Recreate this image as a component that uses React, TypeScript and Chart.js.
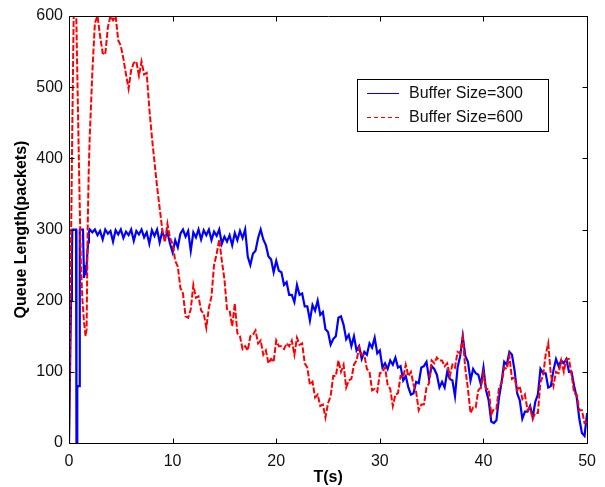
import { useEffect, useRef } from "react";
import { Chart, registerables } from "chart.js";

Chart.register(...registerables);

// ---- Data ----
const SERIES_LABELS = ["Buffer Size=300", "Buffer Size=600"];
const X_TICKS = [0, 10, 20, 30, 40, 50];
const Y_TICKS = [0, 100, 200, 300, 400, 500, 600];
const X_TITLE = "T(s)";
const Y_TITLE = "Queue Length(packets)";

// Buffer 300: start-up transient (irregular times)
const blueEarlyT = [0, 0.1, 0.2, 0.28, 0.32, 0.68, 0.72, 0.78, 0.8, 1.0, 1.04, 1.35, 1.45, 1.55, 1.65, 1.75, 1.85, 1.92];
const blueEarlyV = [0, 100, 200, 260, 300, 300, 0, 0, 80, 80, 300, 300, 232, 250, 236, 262, 282, 296];

// Buffer 300: samples every 0.25 s from t = 2.0 to 50.0
const blueSteadyV = [
  300, 296, 300, 292, 298, 286, 300, 294,
  298, 283, 299, 293, 300, 288, 297, 292,
  300, 284, 298, 293, 300, 289, 296, 280,
  299, 291, 300, 282, 297, 288, 296, 280,
  268, 285, 275, 294, 300, 290, 298, 270,
  296, 289, 300, 286, 299, 292, 300, 285,
  297, 291, 300, 280, 290, 283, 292, 278,
  295, 285, 298, 288, 300, 262, 250, 266,
  270, 288, 300, 286, 278, 262, 258, 240,
  256, 242, 240, 222, 226, 208, 208, 198,
  222, 208, 210, 192, 192, 172, 194, 186,
  200, 180, 184, 160, 156, 138, 146, 150,
  176, 178, 166, 146, 152, 136, 150, 130,
  136, 118, 128, 124, 140, 134, 148, 126,
  130, 106, 112, 104, 116, 110, 120, 106,
  108, 88, 94, 78, 68, 70, 86, 84,
  106, 108, 114, 90, 108, 104, 96, 78,
  86, 78, 100, 90, 88, 66, 106, 122,
  150, 122, 114, 88, 104, 98, 96, 82,
  106, 74, 60, 30, 28, 32, 64, 86,
  114, 110, 128, 124, 102, 70, 60, 34,
  44, 44, 52, 36, 58, 68, 104, 98,
  98, 78, 80, 102, 118, 108, 116, 112,
  118, 100, 100, 80, 64, 34, 14, 10,
  42,
];

// Buffer 600: start-up transient (irregular times)
const redEarlyT = [0, 0.15, 0.3, 0.45, 0.7, 0.85, 1.0, 1.15, 1.3, 1.45, 1.6, 1.7, 1.8, 1.9];
const redEarlyV = [0, 220, 420, 600, 600, 480, 360, 250, 200, 170, 150, 160, 300, 380];

// Buffer 600: samples every 0.25 s from t = 2.0 to 50.0
const redSteadyV = [
  430, 520, 590, 600, 572, 548, 546, 584,
  600, 594, 600, 566, 558, 540, 518, 498,
  524, 534, 536, 516, 536, 518, 520, 470,
  430, 395, 360, 330, 300, 282, 308, 288,
  280, 256, 248, 218, 210, 178, 176, 188,
  222, 204, 206, 186, 182, 162, 190, 206,
  250, 266, 286, 256, 230, 188, 186, 164,
  196, 154, 150, 132, 136, 130, 150, 152,
  158, 140, 144, 124, 130, 112, 118, 114,
  144, 136, 136, 132, 140, 136, 144, 124,
  148, 138, 140, 112, 106, 82, 86, 64,
  68, 52, 54, 36, 56, 66, 94, 94,
  116, 100, 110, 78, 88, 90, 110, 116,
  134, 124, 124, 104, 100, 74, 76, 72,
  98, 100, 106, 82, 76, 52, 68, 70,
  94, 92, 110, 94, 100, 82, 72, 46,
  54, 54, 78, 84, 116, 112, 120, 116,
  116, 108, 112, 94, 110, 106, 128, 126,
  148, 104, 76, 42, 50, 50, 74, 78,
  98, 76, 76, 40, 48, 48, 78, 84,
  106, 104, 122, 90, 92, 74, 80, 62,
  68, 46, 50, 34, 42, 42, 86, 94,
  124, 140, 96, 80, 100, 98, 116, 100,
  118, 118, 96, 70, 68, 46, 46, 28,
  30,
];

const STEADY_START = 2;
const STEADY_STEP = 0.25;

function buildPoints(earlyT: number[], earlyV: number[], steady: number[]) {
  const pts = earlyT.map((t, i) => ({ x: t, y: earlyV[i] }));
  steady.forEach((v, i) => pts.push({ x: STEADY_START + i * STEADY_STEP, y: v }));
  return pts;
}

const FONT = "'Liberation Sans', Arial, Helvetica, sans-serif";
const BLUE = "#0000ff";
const RED = "#ff0000";

const framePlugin = {
  id: "matlabFrame",
  afterDatasetsDraw(chart: any) {
    const { ctx, chartArea: a, scales } = chart;
    ctx.save();
    ctx.strokeStyle = "#000";
    ctx.lineWidth = 1;
    const L = Math.round(a.left) + 0.5;
    const R = Math.round(a.right) + 0.5;
    const T = Math.round(a.top) + 0.5;
    const B = Math.round(a.bottom) + 0.5;
    ctx.beginPath();
    ctx.rect(L, T, R - L, B - T);
    const tl = 5;
    X_TICKS.forEach((v) => {
      const px = Math.round(scales.x.getPixelForValue(v)) + 0.5;
      ctx.moveTo(px, B);
      ctx.lineTo(px, B - tl);
      ctx.moveTo(px, T);
      ctx.lineTo(px, T + tl);
    });
    Y_TICKS.forEach((v) => {
      const py = Math.round(scales.y.getPixelForValue(v)) + 0.5;
      ctx.moveTo(L, py);
      ctx.lineTo(L + tl, py);
      ctx.moveTo(R, py);
      ctx.lineTo(R - tl, py);
    });
    ctx.stroke();
    ctx.restore();
  },
  afterDraw(chart: any) {
    const { ctx } = chart;
    ctx.save();
    const bx = 357.5, by = 79.5, bw = 191, bh = 52;
    ctx.fillStyle = "#fff";
    ctx.fillRect(bx, by, bw, bh);
    ctx.strokeStyle = "#000";
    ctx.lineWidth = 1;
    ctx.strokeRect(bx, by, bw, bh);
    const rows = [
      { y: 93.5, color: BLUE, dash: [] as number[], label: chart.data.datasets[0].label },
      { y: 117.5, color: RED, dash: [4, 3], label: chart.data.datasets[1].label },
    ];
    rows.forEach((r) => {
      ctx.beginPath();
      ctx.strokeStyle = r.color;
      ctx.lineWidth = 1;
      ctx.setLineDash(r.dash);
      ctx.moveTo(367, r.y);
      ctx.lineTo(399, r.y);
      ctx.stroke();
      ctx.setLineDash([]);
      ctx.fillStyle = "#111";
      ctx.font = `16px ${FONT}`;
      ctx.textBaseline = "middle";
      ctx.textAlign = "left";
      ctx.fillText(r.label, 409, r.y);
    });
    ctx.restore();
  },
};

export default function App() {
  const ref = useRef<HTMLCanvasElement | null>(null);

  useEffect(() => {
    if (!ref.current) return;
    const chart = new Chart(ref.current, {
      type: "line",
      data: {
        datasets: [
          {
            label: SERIES_LABELS[0],
            data: buildPoints(blueEarlyT, blueEarlyV, blueSteadyV),
            borderColor: BLUE,
            backgroundColor: BLUE,
            borderWidth: 2.2,
            pointRadius: 0,
            tension: 0,
            order: 1,
          },
          {
            label: SERIES_LABELS[1],
            data: buildPoints(redEarlyT, redEarlyV, redSteadyV),
            borderColor: RED,
            backgroundColor: RED,
            borderWidth: 2,
            borderDash: [6, 2],
            pointRadius: 0,
            tension: 0,
            order: 0,
          },
        ],
      },
      options: {
        responsive: false,
        animation: false,
        events: [],
        layout: { padding: { left: 0, right: 8, top: 16, bottom: 0 } },
        plugins: {
          legend: { display: false },
          tooltip: { enabled: false },
        },
        scales: {
          x: {
            type: "linear",
            min: 0,
            max: 50,
            afterBuildTicks: (s: any) => {
              s.ticks = X_TICKS.map((v) => ({ value: v }));
            },
            afterFit: (s: any) => {
              s.height = 44;
            },
            grid: { display: false, drawTicks: false },
            border: { display: false },
            ticks: {
              color: "#111",
              font: { family: FONT, size: 16 },
              padding: 9,
              maxRotation: 0,
            },
            title: {
              display: true,
              text: X_TITLE,
              color: "#000",
              font: { family: FONT, size: 16, weight: "bold" },
              padding: { top: 0, bottom: 0 },
            },
          },
          y: {
            type: "linear",
            min: 0,
            max: 600,
            afterBuildTicks: (s: any) => {
              s.ticks = Y_TICKS.map((v) => ({ value: v }));
            },
            afterFit: (s: any) => {
              s.width = 69;
            },
            grid: { display: false, drawTicks: false },
            border: { display: false },
            ticks: {
              color: "#111",
              font: { family: FONT, size: 16 },
              padding: 6,
            },
            title: {
              display: true,
              text: Y_TITLE,
              color: "#000",
              font: { family: FONT, size: 16, weight: "bold" },
              padding: { top: 12, bottom: 0 },
            },
          },
        },
      },
      plugins: [framePlugin],
    });
    return () => chart.destroy();
  }, []);

  return (
    <div style={{ position: "absolute", left: 0, top: 0, width: 605, height: 487, background: "#fff" }}>
      <canvas ref={ref} width={605} height={487} />
    </div>
  );
}
